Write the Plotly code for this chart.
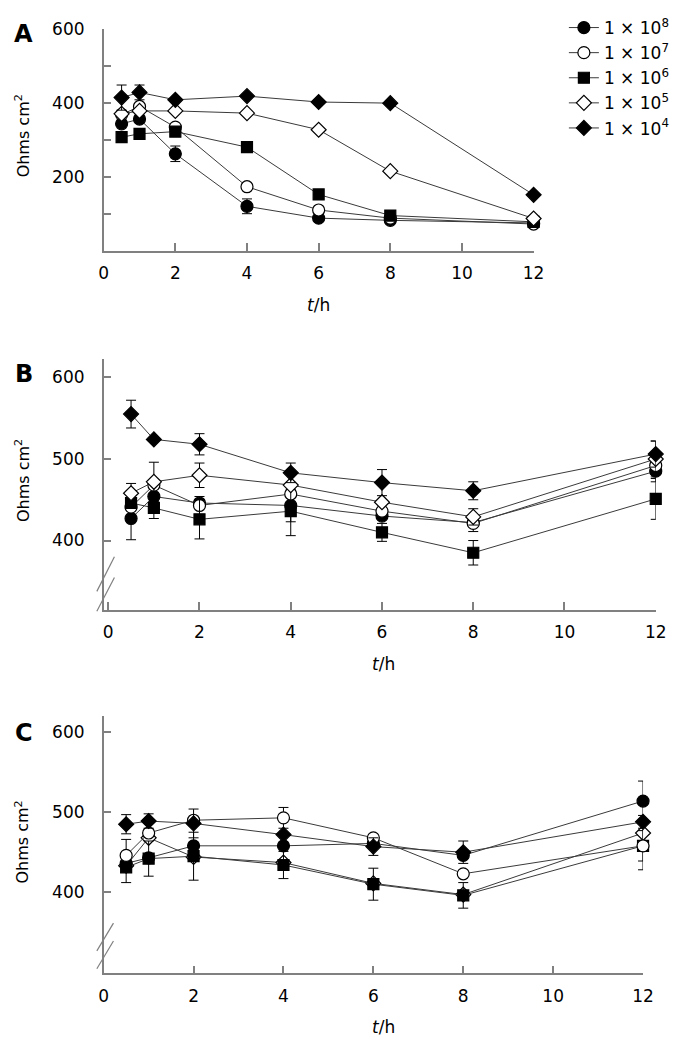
import plotly.graph_objects as go

# ---------------- data ----------------
times = [0.5, 1, 2, 4, 6, 8, 12]
series_keys = ["1e8", "1e7", "1e6", "1e5", "1e4"]
series_labels = ["1 × 10<sup>8</sup>", "1 × 10<sup>7</sup>", "1 × 10<sup>6</sup>",
                 "1 × 10<sup>5</sup>", "1 × 10<sup>4</sup>"]

# Panel A
a_1e8 = [343, 356, 262, 120, 88, 82, 75]
a_1e7 = [368, 390, 334, 173, 110, 88, 72]
a_1e6 = [307, 316, 322, 280, 152, 95, 78]
a_1e5 = [370, 378, 378, 372, 327, 215, 87]
a_1e4 = [414, 428, 408, 418, 402, 399, 151]
a_err_1e8 = [0, 0, 21, 20, 0, 0, 0]
a_err_1e7 = [0, 0, 0, 0, 0, 0, 0]
a_err_1e6 = [0, 0, 0, 0, 0, 0, 0]
a_err_1e5 = [0, 0, 0, 0, 0, 0, 0]
a_err_1e4 = [34, 20, 0, 0, 0, 0, 0]

# Panel B
b_1e8 = [427, 454, 446, 443, 430, 422, 485]
b_1e7 = [441, 468, 443, 457, 436, 421, 492]
b_1e6 = [446, 440, 426, 436, 410, 385, 451]
b_1e5 = [458, 472, 480, 468, 447, 429, 500]
b_1e4 = [555, 524, 518, 483, 471, 461, 506]
b_err_1e8 = [26, 0, 0, 20, 0, 0, 13]
b_err_1e7 = [0, 0, 11, 0, 0, 10, 0]
b_err_1e6 = [0, 13, 24, 30, 11, 15, 25]
b_err_1e5 = [12, 24, 15, 0, 0, 10, 22]
b_err_1e4 = [17, 0, 13, 12, 16, 11, 16]

# Panel C
c_1e8 = [436, 443, 458, 458, 461, 446, 514]
c_1e7 = [446, 474, 490, 493, 468, 423, 458]
c_1e6 = [431, 442, 445, 434, 410, 396, 458]
c_1e5 = [433, 468, 444, 437, 411, 397, 474]
c_1e4 = [485, 489, 486, 472, 457, 450, 488]
c_err_1e8 = [0, 0, 0, 0, 0, 0, 25]
c_err_1e7 = [20, 0, 0, 13, 0, 0, 19]
c_err_1e6 = [19, 22, 30, 17, 20, 16, 30]
c_err_1e5 = [0, 0, 0, 0, 0, 0, 0]
c_err_1e4 = [12, 9, 18, 0, 11, 14, 8]

x_tick_vals = [0, 2, 4, 6, 8, 10, 12]
a_y_tick_vals = [200, 400, 600]
a_y_minor_vals = [100, 300, 500]
bc_y_tick_vals = [400, 500, 600]

panel_a = {"1e8": (a_1e8, a_err_1e8), "1e7": (a_1e7, a_err_1e7), "1e6": (a_1e6, a_err_1e6),
           "1e5": (a_1e5, a_err_1e5), "1e4": (a_1e4, a_err_1e4)}
panel_b = {"1e8": (b_1e8, b_err_1e8), "1e7": (b_1e7, b_err_1e7), "1e6": (b_1e6, b_err_1e6),
           "1e5": (b_1e5, b_err_1e5), "1e4": (b_1e4, b_err_1e4)}
panel_c = {"1e8": (c_1e8, c_err_1e8), "1e7": (c_1e7, c_err_1e7), "1e6": (c_1e6, c_err_1e6),
           "1e5": (c_1e5, c_err_1e5), "1e4": (c_1e4, c_err_1e4)}

# ---------------- styles ----------------
styles = {
    "1e8": dict(symbol="circle", size=12, fill="black"),
    "1e7": dict(symbol="circle", size=12, fill="white"),
    "1e6": dict(symbol="square", size=11, fill="black"),
    "1e5": dict(symbol="diamond", size=11.5, fill="white"),
    "1e4": dict(symbol="diamond", size=11.5, fill="black"),
}
labels = dict(zip(series_keys, series_labels))

W, H = 698, 1045


def fx(p):
    return p / W


def fy(p):
    return 1 - p / H


fig = go.Figure()


def add_panel(data, order, xa, ya, show_legend):
    for k in order:
        vals, err = data[k]
        st = styles[k]
        fig.add_trace(go.Scatter(
            x=times, y=vals, mode="lines+markers", name=labels[k],
            legendgroup=k, showlegend=show_legend,
            xaxis=xa, yaxis=ya, cliponaxis=False,
            line=dict(color="#3a3a3a", width=1),
            marker=dict(symbol=st["symbol"], size=st["size"], color=st["fill"],
                        line=dict(color="black", width=1.2)),
            error_y=dict(type="data", array=err, visible=True, color="black",
                         thickness=1, width=5),
        ))


add_panel(panel_a, ["1e8", "1e7", "1e6", "1e5", "1e4"], "x", "y", True)
add_panel(panel_b, ["1e8", "1e7", "1e6", "1e5", "1e4"], "x2", "y2", False)
add_panel(panel_c, ["1e5", "1e8", "1e6", "1e7", "1e4"], "x3", "y3", False)

tickfont = dict(size=17, color="black", family="DejaVu Sans")
axis_common = dict(showline=True, linecolor="#808080", linewidth=1.5, ticks="inside",
                   ticklen=8, tickcolor="#808080", tickwidth=1.5, showgrid=False,
                   zeroline=False, tickfont=tickfont, fixedrange=True)

fig.update_layout(
    width=W, height=H, margin=dict(l=0, r=0, t=0, b=0),
    paper_bgcolor="white", plot_bgcolor="white",
    font=dict(family="DejaVu Sans", color="black", size=16),
    xaxis=dict(domain=[fx(101), fx(541)], range=[0, 12], anchor="y",
               tickvals=x_tick_vals, ticklabelstandoff=6, **axis_common),
    yaxis=dict(domain=[fy(243), fy(19)], range=[0, 600], anchor="x",
               tickvals=a_y_tick_vals, ticklabelstandoff=14,
               minor=dict(tickvals=a_y_minor_vals, ticks="inside", ticklen=8,
                          tickcolor="#808080", tickwidth=1.5, showgrid=False),
               **axis_common),
    xaxis2=dict(domain=[fx(101), fx(666)], range=[-0.1, 12], anchor="y2",
                tickvals=x_tick_vals, ticklabelstandoff=6, **axis_common),
    yaxis2=dict(domain=[fy(606), fy(352)], range=[314.6, 623], anchor="x2",
                tickvals=bc_y_tick_vals, ticklabelstandoff=14, **axis_common),
    xaxis3=dict(domain=[fx(101), fx(653)], range=[0, 12], anchor="y3",
                tickvals=x_tick_vals, ticklabelstandoff=6, **axis_common),
    yaxis3=dict(domain=[fy(972.7), fy(713.3)], range=[298.4, 619.8], anchor="x3",
                tickvals=bc_y_tick_vals, ticklabelstandoff=14, **axis_common),
    legend=dict(x=fx(572), y=fy(0), xanchor="left", yanchor="top",
                font=dict(size=17, family="DejaVu Sans", color="black"),
                bgcolor="rgba(0,0,0,0)", tracegroupgap=8, traceorder="normal"),
)

annotations = []
for letter, cy in [("A", 24), ("B", 368), ("C", 730)]:
    annotations.append(dict(text="<b>" + letter + "</b>", x=fx(19), y=fy(cy), xref="paper",
                            yref="paper", showarrow=False, xanchor="center", yanchor="middle",
                            font=dict(size=24, family="DejaVu Sans", color="black")))
for cy in [127, 475, 840]:
    annotations.append(dict(text="Ohms cm<sup>2</sup>", x=fx(18), y=fy(cy), xref="paper",
                            yref="paper", showarrow=False, textangle=-90, xanchor="center",
                            yanchor="middle",
                            font=dict(size=16, family="DejaVu Sans", color="black")))
for cx, cy in [(321, 298), (387, 660), (387, 1027)]:
    annotations.append(dict(text="<i>t</i>/h", x=fx(cx), y=fy(cy), xref="paper",
                            yref="paper", showarrow=False, xanchor="center", yanchor="middle",
                            font=dict(size=17, family="DejaVu Sans", color="black")))
fig.update_layout(annotations=annotations)

# axis break marks
shapes = []
for (x0, y0, x1, y1) in [(112, 552, 94, 587), (112, 573, 94, 607),
                         (111, 922, 94, 950), (111, 940, 94, 968)]:
    shapes.append(dict(type="line", xref="paper", yref="paper", x0=fx(x0), y0=fy(y0),
                       x1=fx(x1), y1=fy(y1), line=dict(color="#808080", width=1.2)))
fig.update_layout(shapes=shapes)

fig.write_html("out.html", config={"displayModeBar": False},
               post_script="document.body.style.margin='0';")
